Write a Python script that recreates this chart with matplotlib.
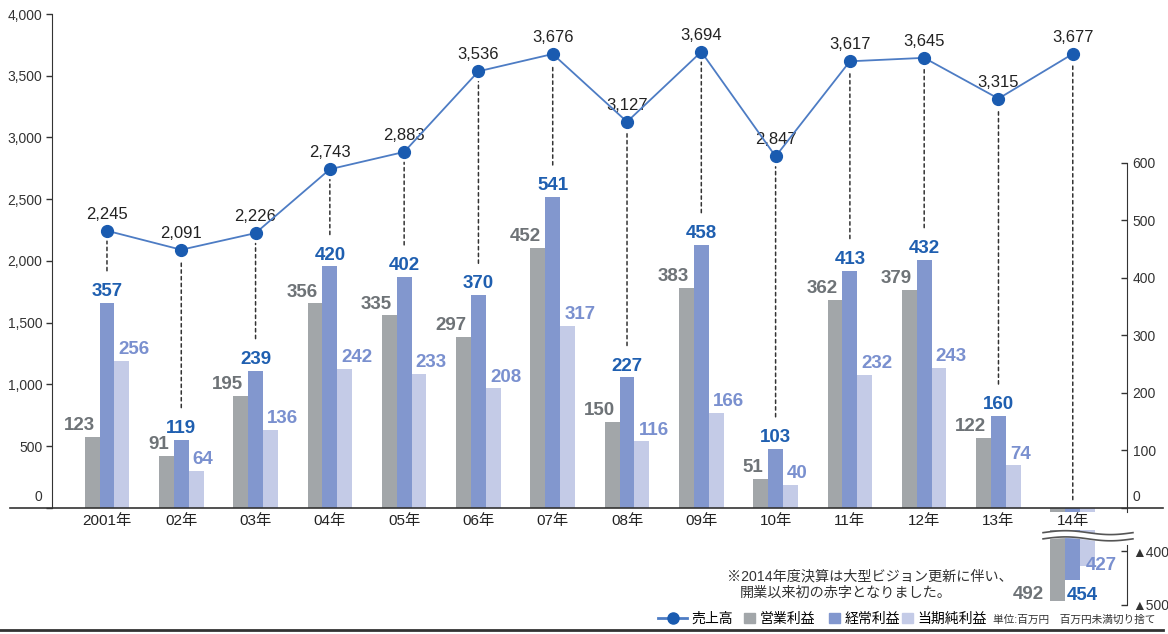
import numpy as np
import matplotlib
matplotlib.use('Agg')
import matplotlib.pyplot as plt
from matplotlib.lines import Line2D
from matplotlib.patches import Patch

plt.rcParams['font.family'] = ['Liberation Sans', 'Noto Sans CJK JP']

years = ['2001年', '02年', '03年', '04年', '05年', '06年', '07年',
         '08年', '09年', '10年', '11年', '12年', '13年', '14年']
sales = [2245, 2091, 2226, 2743, 2883, 3536, 3676, 3127, 3694, 2847, 3617, 3645, 3315, 3677]
eigyo = [123, 91, 195, 356, 335, 297, 452, 150, 383, 51, 362, 379, 122, -492]
keijo = [357, 119, 239, 420, 402, 370, 541, 227, 458, 103, 413, 432, 160, -454]
junri = [256, 64, 136, 242, 233, 208, 317, 116, 166, 40, 232, 243, 74, -427]

c_gray = '#A2A6A9'
c_blue = '#8297CE'
c_light = '#C4CBE7'
c_line = '#4D7CC4'
c_mark = '#1A5BB0'
t_gray = '#6E7377'
t_blue = '#1F5FB0'
t_light = '#7A90CF'
dark = '#333333'

W, H = 1168, 634
fig = plt.figure(figsize=(W / 100, H / 100), dpi=100)
ax = fig.add_axes([52 / W, 1 - 512 / H, 1075 / W, 498 / H])
ax2 = ax.twinx()
axl = fig.add_axes([52 / W, 1 - 605 / H, 1075 / W, 75 / H], sharex=ax)

x = np.arange(len(years))
bw = 0.2

ax.set_xlim(-0.74, 13.73)
ax.set_ylim(-32.4, 4000)
ax2.set_ylim(-6.96, 859.1)
axl.set_ylim(-500, -361.1)

# bars (right axis)
ax2.bar(x - bw, eigyo, bw, color=c_gray, zorder=2)
ax2.bar(x, keijo, bw, color=c_blue, zorder=2)
ax2.bar(x + bw, junri, bw, color=c_light, zorder=2)
axl.bar(x - bw, eigyo, bw, color=c_gray)
axl.bar(x, keijo, bw, color=c_blue)
axl.bar(x + bw, junri, bw, color=c_light)

# sales line (left axis) drawn on top
ax.set_zorder(ax2.get_zorder() + 1)
ax.patch.set_visible(False)
ax.plot(x, sales, color=c_line, lw=1.3, marker='o', markersize=8.5,
        markerfacecolor=c_mark, markeredgecolor=c_mark, zorder=5)

for i, v in enumerate(sales):
    ax.annotate(f'{v:,}', (i, v), xytext=(0, 6.5), textcoords='offset points',
                ha='center', va='bottom', fontsize=12, color='#222222')
    top = keijo[i] if keijo[i] > 0 else 0
    shrink = 23 if keijo[i] > 0 else 6
    ax2.annotate('', xy=(i, v), xycoords=ax.transData, xytext=(i, top), textcoords='data',
                 arrowprops=dict(arrowstyle='-', linestyle=(0, (2.2, 2.2)), color=dark,
                                 lw=1.1, shrinkA=shrink, shrinkB=7.5), zorder=1)

lab = dict(textcoords='offset points', fontsize=13.5, fontweight='bold')
for i in range(len(years)):
    if eigyo[i] > 0:
        ax2.annotate(str(eigyo[i]), (i - bw / 2, eigyo[i]), xytext=(-3.5, 2),
                     ha='right', va='bottom', color=t_gray, **lab)
        ax2.annotate(str(keijo[i]), (i, keijo[i]), xytext=(0, 2),
                     ha='center', va='bottom', color=t_blue, **lab)
        ax2.annotate(str(junri[i]), (i + bw / 2, junri[i]), xytext=(3, 2),
                     ha='left', va='bottom', color=t_light, **lab)
    else:
        axl.annotate(str(-eigyo[i]), (i - 1.5 * bw, eigyo[i]), xytext=(-4.5, 1),
                     ha='right', va='baseline', color=t_gray, annotation_clip=False, **lab)
        axl.annotate(str(-keijo[i]), (i - bw / 2, keijo[i]), xytext=(1, -14),
                     ha='left', va='baseline', color=t_blue, annotation_clip=False, **lab)
        axl.annotate(str(-junri[i]), (i + bw / 2, junri[i]), xytext=(4, -3.5),
                     ha='left', va='baseline', color=t_light, annotation_clip=False, **lab)

# wavy break over the 14 bars
t = np.linspace(0, 1, 120)
wx = 12.6 + t * 1.21
wave = 3.6 * np.sin(2 * np.pi * t)
y_up = -366.0 + wave
y_lo = -377.5 + wave
axl.fill_between(wx, y_lo, y_up, color='white', zorder=4, clip_on=False)
axl.plot(wx, y_up, color='#555555', lw=1.2, zorder=5, clip_on=False)
axl.plot(wx, y_lo, color='#555555', lw=1.2, zorder=5, clip_on=False)

# axes styling
for a in (ax, ax2, axl):
    for s in a.spines.values():
        s.set_visible(False)
ax.spines['left'].set_visible(True)
ax.spines['left'].set_bounds(0, 4000)
ax.spines['left'].set_color(dark)
ax2.spines['right'].set_visible(True)
ax2.spines['right'].set_bounds(-6.9, 600)
ax2.spines['right'].set_color(dark)
axl.spines['right'].set_visible(True)
axl.spines['right'].set_bounds(-500, -389)
axl.spines['right'].set_color(dark)

ax.axhline(0, xmin=-0.039, xmax=1.0335, color=dark, lw=1.2, clip_on=False, zorder=6)

ax.set_yticks(range(0, 4001, 500))
ax.set_yticklabels([f'{v:,}' if v else '' for v in range(0, 4001, 500)])
ax.tick_params(axis='y', direction='out', length=4, width=1, color=dark,
               labelsize=10, labelcolor=dark, pad=3)
ax.annotate('0', xy=(0, 0), xycoords=('axes fraction', 'data'), xytext=(-7, 8),
            textcoords='offset points', ha='right', va='center', fontsize=10, color=dark)

ax2.set_yticks(range(0, 601, 100))
ax2.set_yticklabels([str(v) if v else '' for v in range(0, 601, 100)])
ax2.tick_params(axis='y', direction='in', length=4, width=1, color=dark,
                labelsize=10, labelcolor=dark, pad=4)
ax2.annotate('0', xy=(1, 0), xycoords=('axes fraction', 'data'), xytext=(4, 8),
             textcoords='offset points', ha='left', va='center', fontsize=10, color=dark)

axl.yaxis.tick_right()
axl.set_yticks([-400, -500])
axl.set_yticklabels(['▲400', '▲500'])
axl.tick_params(axis='y', direction='in', length=4, width=1, color=dark,
                labelsize=10, labelcolor=dark, pad=4)
axl.tick_params(axis='x', bottom=False, labelbottom=False)
axl.patch.set_visible(False)

ax.set_xticks(x)
ax.set_xticklabels(years)
ax.tick_params(axis='x', length=0, pad=1.5, labelsize=11, labelcolor='#222222')

# note
fig.text(727 / W, 1 - 576 / H, '※2014年度決算は大型ビジョン更新に伴い、',
         fontsize=10.2, color=dark, va='center')
fig.text(740 / W, 1 - 593 / H, '開業以来初の赤字となりました。',
         fontsize=10.2, color=dark, va='center')

# legend
h1 = [Line2D([], [], color=c_line, lw=2, marker='o', markersize=8,
             markerfacecolor=c_mark, markeredgecolor=c_mark)]
fig.legend(h1, ['売上高'], loc='center left', bbox_to_anchor=(651 / W, 1 - 619 / H),
           frameon=False, fontsize=10, handlelength=2.1, handletextpad=0.3, borderpad=0)
legend_items = [(c_gray, '営業利益', 737), (c_blue, '経常利益', 822), (c_light, '当期純利益', 895)]
for col, name, px in legend_items:
    fig.legend([Patch(color=col)], [name], loc='center left',
               bbox_to_anchor=(px / W, 1 - 619 / H), frameon=False, fontsize=10,
               handlelength=0.8, handleheight=0.8, handletextpad=0.3, borderpad=0)
fig.text(993 / W, 1 - 620 / H, '単位:百万円　百万円未満切り捨て',
         fontsize=7.7, color=dark, va='center')

fig.add_artist(Line2D([0, 1163 / W], [1 - 630 / H, 1 - 630 / H],
                      transform=fig.transFigure, color=dark, lw=2))

fig.savefig('out.png', dpi=100)
